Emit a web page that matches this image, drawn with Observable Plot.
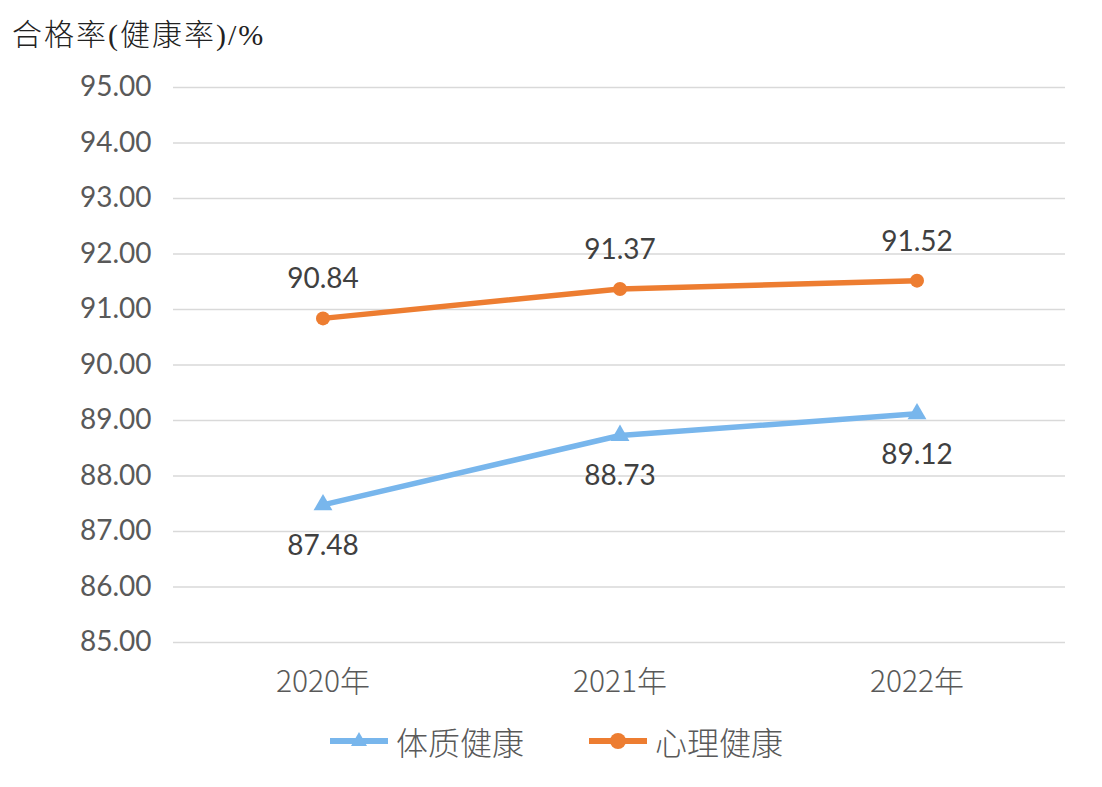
<!DOCTYPE html>
<html>
<head>
<meta charset="utf-8">
<script src="https://cdn.jsdelivr.net/npm/d3@7"></script>
<script src="https://cdn.jsdelivr.net/npm/@observablehq/plot@0.6"></script>
<style>
  body { margin: 0; background: #fff; }
  #wrap { position: relative; width: 1102px; height: 787px; overflow: hidden; background:#fff; }
  #title { position: absolute; left: 12px; top: 10px; font-family: "Liberation Serif", "Noto Sans CJK SC", serif; font-size: 30px; font-weight: 300; letter-spacing: 2px; color: #222; white-space: nowrap; }
  #chart { position: absolute; left: 0; top: 0; }
  #legend { position: absolute; left: 0; top: 721px; width: 1102px; height: 40px; font-family: "Noto Sans CJK SC", sans-serif; font-size: 32px; font-weight: 300; color: #595959; }
  .item { position: absolute; top: 0; display: flex; align-items: center; height: 40px; white-space: nowrap; }
  .item svg { margin-right: 8px; }
</style>
</head>
<body>
<div id="wrap">
  <div id="title">合格率(健康率)/%</div>
  <div id="chart"></div>
  <div id="legend"></div>
</div>
<script>
const years = ["2020年", "2021年", "2022年"];
const physical = [87.48, 88.73, 89.12];
const mental = [90.84, 91.37, 91.52];
const seriesNames = ["体质健康", "心理健康"];
const seriesColors = ["#78B6EC", "#ED7D31"];
const yTicks = [85, 86, 87, 88, 89, 90, 91, 92, 93, 94, 95];

const phys = years.map((y, i) => ({year: y, value: physical[i]}));
const ment = years.map((y, i) => ({year: y, value: mental[i]}));

const numFont = "Lato, 'Noto Sans', sans-serif";

const plot = Plot.plot({
  width: 1102,
  height: 712,
  marginTop: 87,
  marginBottom: 70,
  marginLeft: 173,
  marginRight: 37,
  style: {background: "transparent", fontFamily: numFont, overflow: "visible"},
  x: {type: "band", domain: years, padding: 0},
  y: {domain: [85, 95]},
  marks: [
    Plot.gridY(yTicks, {stroke: "#d9d9d9", strokeOpacity: 1, strokeWidth: 1.5}),
    Plot.axisY(yTicks, {tickSize: 0, tickPadding: 22, tickFormat: d => d.toFixed(2), fontSize: 28, fill: "#595959", letterSpacing: "1px", label: null}),
    Plot.axisX({tickSize: 0, tickPadding: 28, fontSize: 30, fill: "#595959", fontFamily: "'Noto Sans CJK SC', sans-serif", fontWeight: 300, label: null}),
    Plot.lineY(phys, {x: "year", y: "value", stroke: seriesColors[0], strokeWidth: 5.5}),
    Plot.dot(phys, {x: "year", y: "value", symbol: "triangle", fill: seriesColors[0], r: 7}),
    Plot.lineY(ment, {x: "year", y: "value", stroke: seriesColors[1], strokeWidth: 5.5}),
    Plot.dot(ment, {x: "year", y: "value", symbol: "circle", fill: seriesColors[1], r: 7}),
    Plot.text(phys, {x: "year", y: "value", text: d => d.value.toFixed(2), dy: 41, fontSize: 28, fill: "#404040", letterSpacing: "0.5px"}),
    Plot.text(ment, {x: "year", y: "value", text: d => d.value.toFixed(2), dy: -39, fontSize: 28, fill: "#404040", letterSpacing: "0.5px"})
  ]
});
document.getElementById("chart").appendChild(plot);

// legend
const legend = document.getElementById("legend");
const positions = [330, 589];
seriesNames.forEach((name, i) => {
  const item = document.createElement("div");
  item.className = "item";
  item.style.left = positions[i] + "px";
  const sym = i === 0
    ? `<polygon points="29,11 37,25 21,25" fill="${seriesColors[i]}"/>`
    : `<circle cx="29" cy="20" r="8" fill="${seriesColors[i]}"/>`;
  item.innerHTML = `<svg width="58" height="40"><line x1="0" y1="20" x2="58" y2="20" stroke="${seriesColors[i]}" stroke-width="6" stroke-linecap="round"/>${sym}</svg><span>${name}</span>`;
  legend.appendChild(item);
});
</script>
</body>
</html>
